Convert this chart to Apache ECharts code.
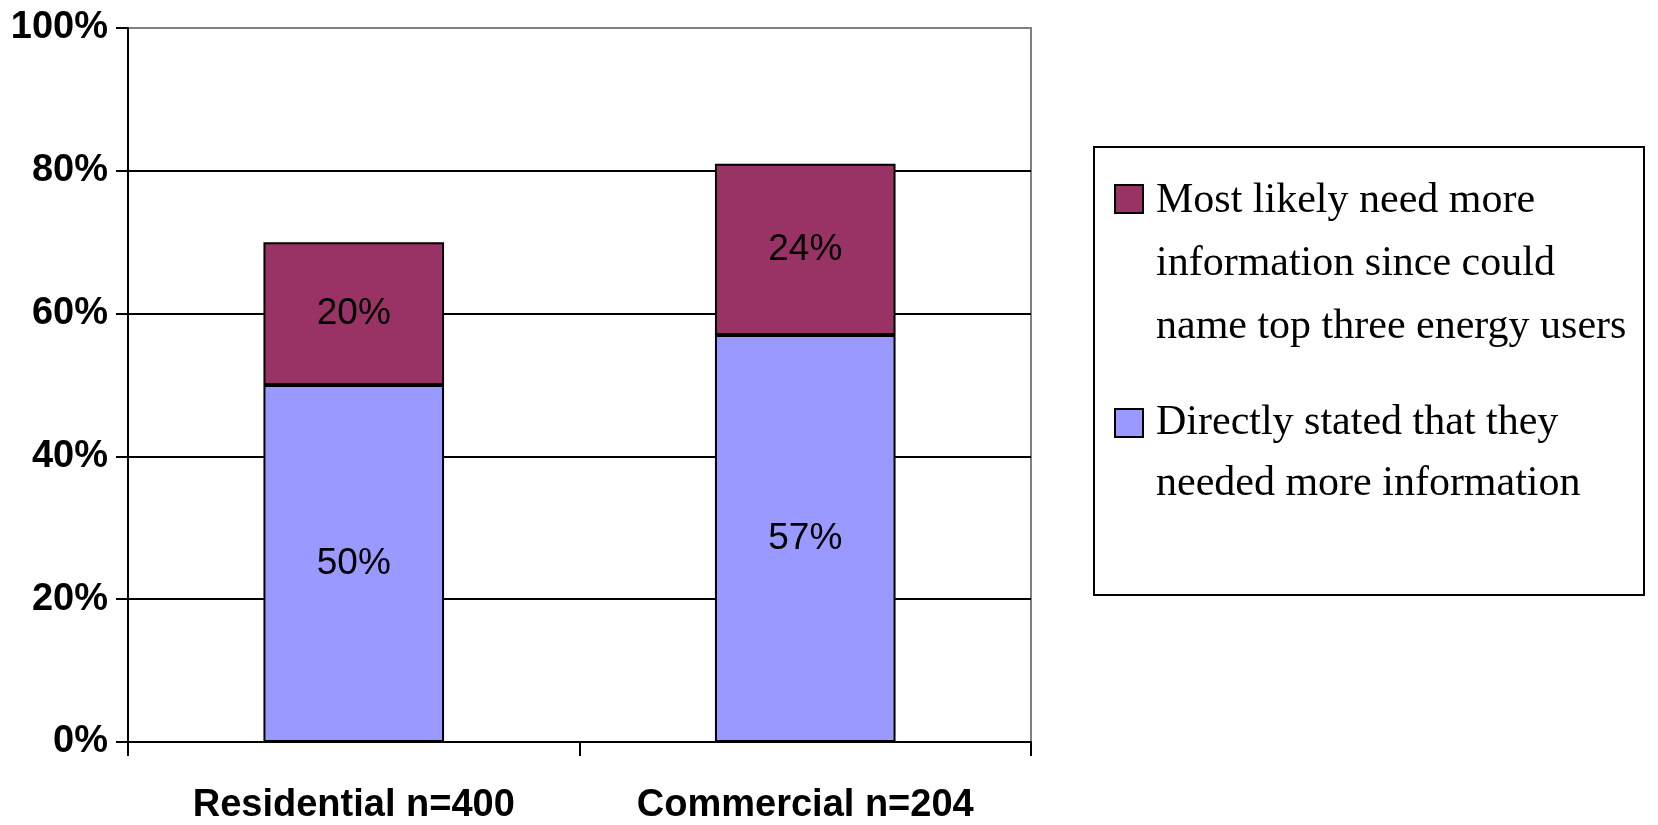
<!DOCTYPE html>
<html>
<head>
<meta charset="utf-8">
<script src="https://cdn.jsdelivr.net/npm/echarts@6/dist/echarts.min.js"></script>
<style>
  html, body { margin: 0; padding: 0; background: #fff; }
  #chartdiv { width: 1658px; height: 825px; }
</style>
</head>
<body>
<div id="chartdiv"></div>
<script>
// categories and values
var categories = ['Residential n=400', 'Commercial n=204'];
var directlyStated = [50, 57];
var mostLikely = [20, 24];
var yTicks = [0, 20, 40, 60, 80, 100];

var legendLinesTop = ['Most likely need more', 'information since could', 'name top three energy users'];
var legendLinesBottom = ['Directly stated that they', 'needed more information'];

var blue = '#9999FF';
var maroon = '#993366';

var barLabel = {
    show: true,
    position: 'inside',
    formatter: '{c}%',
    color: '#000',
    fontFamily: 'Liberation Sans',
    fontSize: 37
};

var options = {
    animation: false,
    backgroundColor: '#fff',
    grid: {
        left: 128,
        right: 627,
        top: 28,
        bottom: 83,
        show: true,
        borderColor: '#808080',
        borderWidth: 2
    },
    xAxis: {
        type: 'category',
        data: categories,
        axisLine: { lineStyle: { color: '#000', width: 2 } },
        axisTick: { show: true, length: 14, inside: false, lineStyle: { color: '#000', width: 2 } },
        axisLabel: {
            margin: 45,
            color: '#000',
            fontFamily: 'Liberation Sans',
            fontWeight: 'bold',
            fontSize: 38
        }
    },
    yAxis: {
        type: 'value',
        min: yTicks[0],
        max: yTicks[yTicks.length - 1],
        interval: 20,
        axisLine: { show: true, lineStyle: { color: '#000', width: 2 } },
        axisTick: { show: true, length: 12, lineStyle: { color: '#000', width: 2 } },
        axisLabel: {
            margin: 20,
            formatter: '{value}%',
            color: '#000',
            fontFamily: 'Liberation Sans',
            fontWeight: 'bold',
            fontSize: 38
        },
        splitLine: {
            show: true,
            showMaxLine: false,
            lineStyle: { color: '#000', width: 2 }
        }
    },
    series: [
        {
            name: legendLinesBottom.join(' '),
            type: 'bar',
            stack: 'total',
            barWidth: '40%',
            data: directlyStated,
            itemStyle: { color: blue, borderColor: '#000', borderWidth: 2 },
            label: barLabel
        },
        {
            name: legendLinesTop.join(' '),
            type: 'bar',
            stack: 'total',
            barWidth: '40%',
            data: mostLikely,
            itemStyle: { color: maroon, borderColor: '#000', borderWidth: 2 },
            label: barLabel
        }
    ],
    // legend box drawn by hand so the swatch sits on the first text line
    graphic: [
        {
            type: 'rect',
            shape: { x: 1094, y: 147, width: 550, height: 448 },
            style: { fill: '#fff', stroke: '#000', lineWidth: 2 }
        },
        {
            type: 'rect',
            shape: { x: 1115, y: 185, width: 28, height: 28 },
            style: { fill: maroon, stroke: '#000', lineWidth: 2 }
        },
        {
            type: 'text',
            x: 1156,
            y: 169,
            style: {
                text: legendLinesTop.join('\n'),
                fontFamily: 'Liberation Serif',
                fontSize: 42,
                lineHeight: 63,
                fill: '#000',
                verticalAlign: 'top'
            }
        },
        {
            type: 'rect',
            shape: { x: 1115, y: 409, width: 28, height: 28 },
            style: { fill: blue, stroke: '#000', lineWidth: 2 }
        },
        {
            type: 'text',
            x: 1156,
            y: 392,
            style: {
                text: legendLinesBottom.join('\n'),
                fontFamily: 'Liberation Serif',
                fontSize: 42,
                lineHeight: 61,
                fill: '#000',
                verticalAlign: 'top'
            }
        }
    ]
};

var chartDom = document.getElementById('chartdiv');
var plot = echarts.init(chartDom);
plot.setOption(options);
</script>
</body>
</html>
